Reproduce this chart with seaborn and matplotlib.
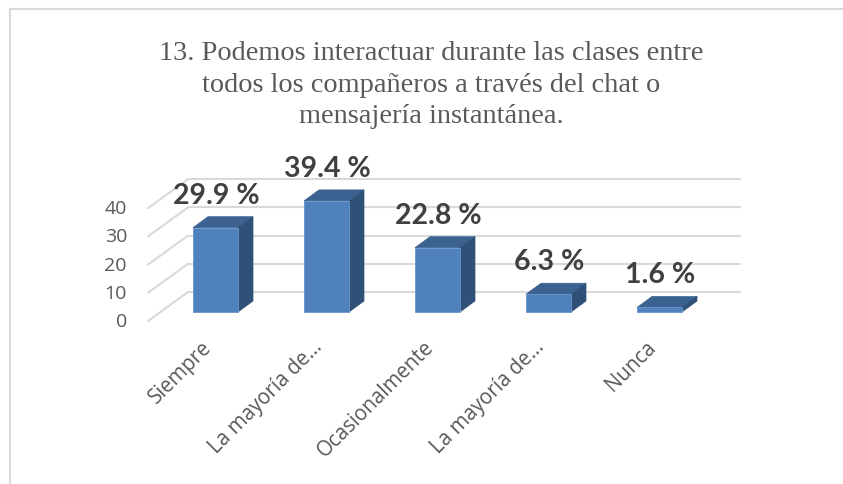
import matplotlib
matplotlib.use("Agg")
import matplotlib.pyplot as plt
import seaborn as sns
import numpy as np
import pandas as pd
from matplotlib.patches import Polygon

categories = ["Siempre", "La mayoría de…", "Ocasionalmente", "La mayoría de…", "Nunca"]
values = [29.9, 39.4, 22.8, 6.3, 1.6]
value_labels = ["29.9 %", "39.4 %", "22.8 %", "6.3 %", "1.6 %"]
yticks = [0, 10, 20, 30, 40]
grid_levels = [0, 10, 20, 30, 40]
title = "13. Podemos interactuar durante las clases entre\ntodos los compañeros a través del chat o\nmensajería instantánea."

W, H = 843, 484
sns.set_theme(style="white")
plt.rcParams['font.family'] = ['Liberation Serif', 'DejaVu Sans']

fig = plt.figure(figsize=(W / 100, H / 100), dpi=100)
ax = fig.add_axes([0, 0, 1, 1])

# pixel mapping
x0_px, xstep = 215.5, 111.0
y0_px, k = 312.0, 2.82

def set_limits():
    ax.set_xlim(-x0_px / xstep, (W - x0_px) / xstep)
    ax.set_ylim((y0_px - H) / k, y0_px / k)

def px_dx(p):
    return p / xstep

def px_dy(p):
    return p / k

df = pd.DataFrame({"cat": categories, "val": values})
df["pos"] = range(len(df))
front = "#4F81BD"
top = "#3B6290"
side = "#2F5077"

set_limits()
# back wall gridlines
wall_dx, wall_dy = px_dx(188 - x0_px), px_dy(312 - 292)
wall_right = px_dx(740 - x0_px)
front_left = px_dx(148 - x0_px)
front_dy = px_dy(312 - 321)
for g in grid_levels:
    ax.plot([wall_dx, wall_right], [g + wall_dy, g + wall_dy], color="#D9D9D9", lw=1.5, zorder=1)
    ax.plot([front_left, wall_dx], [g + front_dy, g + wall_dy], color="#D9D9D9", lw=1.5, zorder=1)

# front faces via seaborn
bw = 45 / xstep
sns.barplot(data=df, x="pos", y="val", native_scale=True, width=bw, color=front,
            saturation=1, ax=ax, zorder=3, edgecolor="#6A96CC", linewidth=0.6)
set_limits()

ddx, ddy = px_dx(15), px_dy(11)
for i, v in enumerate(values):
    l, r = i - bw / 2, i + bw / 2
    ax.add_patch(Polygon([[l, v], [r, v], [r + ddx, v + ddy], [l + ddx, v + ddy]],
                         closed=True, facecolor=top, edgecolor=top, lw=0.5, zorder=2.9))
    ax.add_patch(Polygon([[r, 0], [r, v], [r + ddx, v + ddy], [r + ddx, ddy]],
                         closed=True, facecolor=side, edgecolor=side, lw=0.5, zorder=2.9))
    ax.text(i + 0.01, v + ddy + px_dy(8), value_labels[i], ha="center", va="bottom",
            fontsize=20.5, fontweight="bold", color="#404040", family=["Lato", "DejaVu Sans"], zorder=5)
    ax.text(i - px_dx(3), px_dy(312 - 348), categories[i], rotation=45, rotation_mode="anchor",
            ha="right", va="baseline", fontsize=14.8, color="#595959", family=["Open Sans", "DejaVu Sans"])

for t in yticks:
    ax.text(px_dx(127 - x0_px), t + front_dy + px_dy(-1), str(t), ha="right", va="center",
            fontsize=14, color="#595959", family=["Open Sans", "DejaVu Sans"])

ax.text(px_dx(431 - x0_px), px_dy(312 - 41), title, ha="center", va="top", fontsize=20.4,
        color="#595959", linespacing=1.35)

ax.set_axis_off()

# outer border
fig.add_artist(plt.Line2D([10 / W, 10 / W], [0, 1 - 9 / H], color="#D9D9D9", lw=1.5))
fig.add_artist(plt.Line2D([10 / W, 1], [1 - 9 / H, 1 - 9 / H], color="#D9D9D9", lw=1.5))

fig.savefig("out.png", dpi=100, facecolor="white")
